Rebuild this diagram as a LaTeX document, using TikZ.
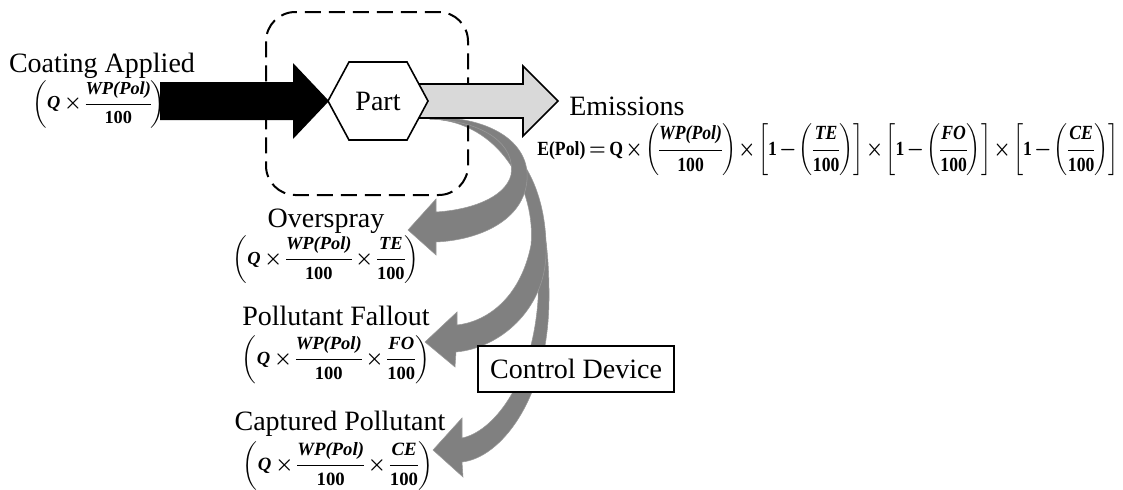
\documentclass[tikz,border=0pt]{standalone}
\usepackage{fontspec}
\setmainfont{Liberation Serif}
\usepackage{amsmath}
\usepackage{graphicx}

% bold italic variables and bold upright numbers, taken from the text font
\newcommand\vb[1]{\text{\bfseries\itshape #1}}
\newcommand\ub[1]{\text{\bfseries #1}}
% bold display maths with tightened operator spacing, scaled to a given width
\newcommand\sizedmath[2]{\resizebox{#1}{!}{{\medmuskip=3mu\thickmuskip=4mu\nulldelimiterspace=0pt\boldmath$\displaystyle #2$}}}
% the same, boxed to a given width and total height, with tighter spacing
\newcommand\boxedmath[3]{\resizebox*{#1}{#2}{{\medmuskip=2mu\thickmuskip=3mu\nulldelimiterspace=0pt\boldmath$\displaystyle #3$}}}

\tikzset{
  lbl/.style={font=\fontsize{21}{25}\selectfont, inner sep=0pt},
  formula/.style={inner sep=0pt, font=\fontsize{16}{19}\selectfont},
  flowband/.style={fill=black!50, draw=black!40, line width=0.4pt},
  outline/.style={draw=black, line width=1.2pt, line join=miter},
  scopebox/.style={draw=black, line width=1.5pt, dash pattern=on 12pt off 6pt, rounded corners=22pt},
  cdbox/.style={draw=black, fill=white, line width=1pt, minimum width=147pt, minimum height=34.5pt, inner sep=0pt, font=\fontsize{21}{25}\selectfont}
}

\begin{document}
\begin{tikzpicture}[x=0.75pt,y=-0.75pt]
\useasboundingbox (0,0) rectangle (1123,489);

% curved loss streams leaving the part
\filldraw[flowband] (430,117) .. controls (520,117) and (550,190) .. (549,300)
  .. controls (548,400) and (500,458) .. (462,462) -- (463,477) -- (433,450) -- (462,418) -- (462,438)
  .. controls (492,432) and (532,385) .. (538,300)
  .. controls (542,190) and (510,121) .. (430,119) -- cycle;
\filldraw[flowband] (430,117) .. controls (515,117) and (548,185) .. (546,255)
  .. controls (544,310) and (500,348) .. (456,352) -- (455,367) -- (425,342) -- (457,312) -- (457,325)
  .. controls (485,322) and (520,300) .. (531,245)
  .. controls (536,190) and (500,121) .. (430,119) -- cycle;
\filldraw[flowband] (430,117) .. controls (495,117) and (530,145) .. (527,180)
  .. controls (524,220) and (480,240) .. (436,242) -- (436,255) -- (408,230) -- (436,199) -- (436,212)
  .. controls (470,210) and (505,198) .. (511,175)
  .. controls (516,145) and (485,121) .. (430,119) -- cycle;

% process boundary
\draw[scopebox] (266,12) rectangle (468,195);

% input arrow
\fill[black] (160,82) -- (293,82) -- (293,63) -- (329,101) -- (293,139) -- (293,120) -- (160,120) -- cycle;

% emission arrow
\filldraw[fill=black!15, outline] (415,84) -- (523,84) -- (523,66) -- (558,101) -- (523,136) -- (523,118) -- (415,118) -- cycle;

% the part
\filldraw[fill=white, outline] (328,101) -- (349,62) -- (407,62) -- (428,101) -- (407,140) -- (349,140) -- cycle;
\node[lbl] (part) at (378,101) {Part};

% control device
\node[cdbox] (ctrl) at (576,369) {Control Device};

% labels
\node[lbl, anchor=base] (coat) at (102,72) {Coating Applied};
\node[lbl, anchor=base west] (emis) at (569,115) {Emissions};
\node[lbl, anchor=base] (over) at (326,227) {Overspray};
\node[lbl, anchor=base] (fall) at (336,325) {Pollutant Fallout};
\node[lbl, anchor=base] (capt) at (340,430) {Captured Pollutant};

% formulas
\node[formula] (coatf) at (99,104) {\sizedmath{99.75pt}{\left(\vb{Q}\times\frac{\vb{WP(Pol)}}{\ub{100}}\right)}};
\node[formula, anchor=west] (emisf) at (537,150) {\boxedmath{436pt}{39pt}{\ub{E(Pol)}=\ub{Q}\times\left(\frac{\vb{WP(Pol)}}{\ub{100}}\right)\times\left[\ub{1}-\left(\frac{\vb{TE}}{\ub{100}}\right)\right]\times\left[\ub{1}-\left(\frac{\vb{FO}}{\ub{100}}\right)\right]\times\left[\ub{1}-\left(\frac{\vb{CE}}{\ub{100}}\right)\right]}};
\node[formula] (overf) at (326,259.5) {\sizedmath{140pt}{\left(\vb{Q}\times\frac{\vb{WP(Pol)}}{\ub{100}}\times\frac{\vb{TE}}{\ub{100}}\right)}};
\node[formula] (fallf) at (336,359.5) {\sizedmath{141pt}{\left(\vb{Q}\times\frac{\vb{WP(Pol)}}{\ub{100}}\times\frac{\vb{FO}}{\ub{100}}\right)}};
\node[formula] (captf) at (338,465.5) {\sizedmath{142.5pt}{\left(\vb{Q}\times\frac{\vb{WP(Pol)}}{\ub{100}}\times\frac{\vb{CE}}{\ub{100}}\right)}};

\end{tikzpicture}
\end{document}
